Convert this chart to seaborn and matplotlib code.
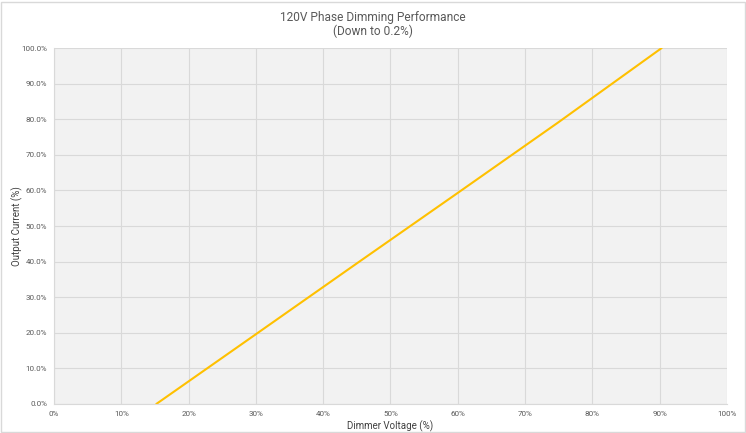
import matplotlib
matplotlib.use("Agg")
import matplotlib.pyplot as plt
import matplotlib.ticker as mticker
from matplotlib.patches import Rectangle
import seaborn as sns
import pandas as pd

# --- data ---
dimmer_voltage = [15.2, 30.0, 45.0, 60.0, 75.0, 90.3]
output_current = [0.0, 19.6, 39.5, 59.3, 79.2, 100.0]

df = pd.DataFrame({"Dimmer Voltage (%)": dimmer_voltage,
                   "Output Current (%)": output_current})

sns.set_style("white")
plt.rcParams['font.family'] = ['Roboto', 'DejaVu Sans']

fig = plt.figure(figsize=(7.46, 4.33), dpi=100)
ax = fig.add_axes([0.0724, 0.067, 0.902, 0.822])
fig.patches.append(Rectangle((0.002, 0.002), 0.996, 0.994, transform=fig.transFigure,
                             fill=False, edgecolor='#d9d9d9', linewidth=1))

ax.set_facecolor('#f2f2f2')
sns.lineplot(data=df, x="Dimmer Voltage (%)", y="Output Current (%)",
             color='#ffc000', linewidth=1.5, ax=ax)

ax.set_xlim(0, 100)
ax.set_ylim(0, 100)
ax.xaxis.set_major_locator(mticker.MultipleLocator(10))
ax.xaxis.set_minor_locator(mticker.MultipleLocator(2))
ax.yaxis.set_major_locator(mticker.MultipleLocator(10))
ax.yaxis.set_minor_locator(mticker.MultipleLocator(2))
ax.xaxis.set_major_formatter(mticker.FuncFormatter(lambda v, p: f"{v:.0f}%"))
ax.yaxis.set_major_formatter(mticker.FuncFormatter(lambda v, p: f"{v:.1f}%"))

ax.grid(True, which='major', color='#d9d9d9', linewidth=0.8)
ax.set_axisbelow(True)
for side in ['top', 'right']:
    ax.spines[side].set_visible(False)
for side in ['left', 'bottom']:
    ax.spines[side].set_color('#d9d9d9')
    ax.spines[side].set_linewidth(0.8)

ax.tick_params(which='major', length=0, labelsize=5.8, labelcolor='#595959', pad=5)
ax.tick_params(which='minor', length=3, color='#d9d9d9', direction='in')

ax.set_xlabel("Dimmer Voltage (%)", fontsize=7, color='#404040', va='center')
ax.set_ylabel("Output Current (%)", fontsize=7, color='#404040', va='center')
ax.xaxis.set_label_coords(0.5, -0.062)
ax.yaxis.set_label_coords(-0.055, 0.5)

fig.text(0.5, 1 - 17 / 433, "120V Phase Dimming Performance", ha='center', va='center',
         fontsize=8.6, color='#595959')
fig.text(0.5, 1 - 31.5 / 433, "(Down to 0.2%)", ha='center', va='center',
         fontsize=8.6, color='#595959')

fig.savefig("out.png", dpi=100)
